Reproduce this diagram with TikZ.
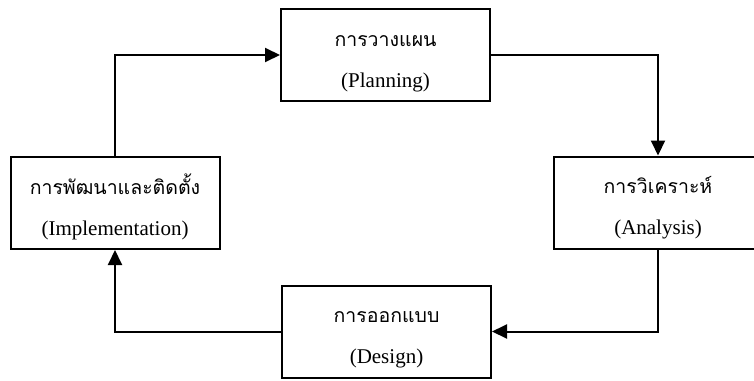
\documentclass[tikz,border=0pt]{standalone}
\usepackage{fontspec}
\setmainfont{Liberation Serif}
\newfontfamily\thaifont[Script=Thai]{Loma}
\usetikzlibrary{arrows.meta}
\tikzset{
  box/.style={draw, line width=2pt, minimum width=209pt, minimum height=92pt, inner sep=0pt},
  thaitext/.style={anchor=base, font=\thaifont\fontsize{19.5}{22}\selectfont},
  engtext/.style={anchor=base, font=\fontsize{21}{24}\selectfont},
  flow/.style={line width=2pt, -{Triangle[length=15pt,width=14pt]}},
}
\begin{document}
\begin{tikzpicture}[x=1pt,y=-1pt]
\useasboundingbox (0,0) rectangle (754,380);
\node[box] (pl) at (385.5,55) {};
\node[box] (an) at (658,202.5) {};
\node[box] (de) at (386.5,331.5) {};
\node[box] (im) at (115,203) {};
\node[thaitext] (plt) at ([yshift=-38pt]pl.north) {การวางแผน};
\node[engtext] (ple) at ([yshift=-79pt]pl.north) {(Planning)};
\node[thaitext] (ant) at ([yshift=-38pt]an.north) {การวิเคราะห์};
\node[engtext] (ane) at ([yshift=-79pt]an.north) {(Analysis)};
\node[thaitext] (det) at ([yshift=-38pt]de.north) {การออกแบบ};
\node[engtext] (dee) at ([yshift=-79pt]de.north) {(Design)};
\node[thaitext] (imt) at ([yshift=-38pt]im.north) {การพัฒนาและติดตั้ง};
\node[engtext] (ime) at ([yshift=-79pt]im.north) {(Implementation)};
\draw[flow] (pl.east) -| (an.north);
\draw[flow] (an.south) |- (de.east);
\draw[flow] (de.west) -| (im.south);
\draw[flow] (im.north) |- (pl.west);
\end{tikzpicture}
\end{document}
